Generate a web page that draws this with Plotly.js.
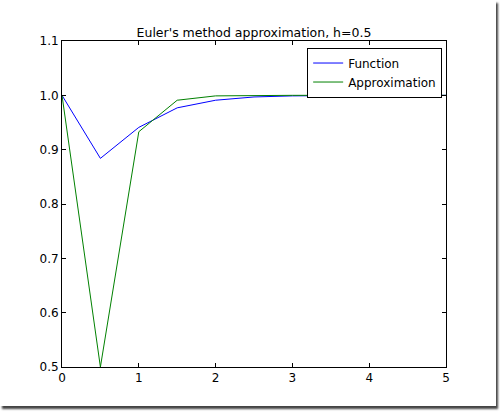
<!DOCTYPE html>
<html>
<head>
<meta charset="utf-8">
<script src="https://cdn.plot.ly/plotly-3.0.1.min.js"></script>
<style>
  html, body { margin: 0; padding: 0; background: #fff; }
  #frame { position: absolute; left: 0; top: 0; width: 496px; height: 406px;
           box-shadow: 2px 3px 2px #444; background: #fff; }
  #chart { position: absolute; left: 0; top: 0; width: 500px; height: 412px; }
</style>
</head>
<body>
<div id="frame"></div>
<div id="chart"></div>
<script>
const xValues = [0, 0.5, 1, 1.5, 2, 2.5, 3, 3.5, 4, 4.5, 5];
const functionValues = [1.0, 0.884, 0.941, 0.977, 0.991, 0.997, 0.999, 1.0, 1.0, 1.0, 1.0];
const approxValues = [1.0, 0.5, 0.933, 0.991, 0.999, 1.0, 1.0, 1.0, 1.0, 1.0, 1.0];
const xTicks = [0, 1, 2, 3, 4, 5];
const yTicks = [0.5, 0.6, 0.7, 0.8, 0.9, 1.0, 1.1];
const yTickLabels = ['0.5', '0.6', '0.7', '0.8', '0.9', '1.0', '1.1'];

const font = { family: 'DejaVu Sans', size: 12, color: '#000' };

const traces = [
  { x: xValues, y: functionValues, name: 'Function', type: 'scatter', mode: 'lines',
    line: { color: '#0000ff', width: 1 } },
  { x: xValues, y: approxValues, name: 'Approximation', type: 'scatter', mode: 'lines',
    line: { color: '#008000', width: 1 } }
];

const axisCommon = {
  showgrid: false, zeroline: false, showline: true, linecolor: '#000', linewidth: 1,
  mirror: 'ticks', ticks: 'inside', ticklen: 4, tickcolor: '#000', tickwidth: 1,
  tickfont: { family: 'DejaVu Sans', size: 12, color: '#000' }
};

const layout = {
  width: 500, height: 412,
  margin: { l: 62, r: 54, t: 41, b: 45, pad: 0 },
  paper_bgcolor: 'rgba(0,0,0,0)', plot_bgcolor: '#fff',
  font: font,
  title: { text: "Euler's method approximation, h=0.5", font: { family: 'DejaVu Sans', size: 12.5, color: '#000' },
           x: 0.508, xanchor: 'center', xref: 'container', yref: 'container', y: 0.922, yanchor: 'middle' },
  xaxis: Object.assign({}, axisCommon, { range: [0, 5], tickvals: xTicks, ticktext: xTicks.map(String) }),
  yaxis: Object.assign({}, axisCommon, { range: [0.5, 1.1], tickvals: yTicks, ticktext: yTickLabels }),
  showlegend: true,
  legend: { x: 0.99, xanchor: 'right', y: 0.98, yanchor: 'top', bgcolor: '#fff',
            bordercolor: '#000', borderwidth: 1, font: { family: 'DejaVu Sans', size: 12, color: '#000' },
            tracegroupgap: 0 }
};

Plotly.newPlot('chart', traces, layout, { displayModeBar: false, staticPlot: true });
</script>
</body>
</html>
